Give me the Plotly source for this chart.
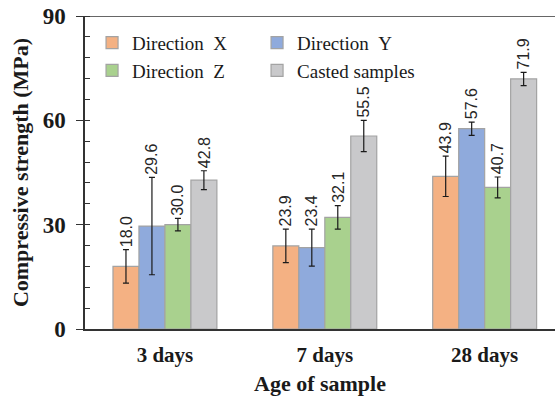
import plotly.graph_objects as go

# Compressive strength by sample age and print direction
ages = ["3 days", "7 days", "28 days"]
series_names = ["Direction\u00a0\u00a0X", "Direction\u00a0\u00a0Y",
                "Direction\u00a0\u00a0Z", "Casted samples"]
dir_x = [18.0, 23.9, 43.9]
dir_y = [29.6, 23.4, 57.6]
dir_z = [30.0, 32.1, 40.7]
casted = [42.8, 55.5, 71.9]
err_x = [4.8, 4.8, 5.8]
err_y = [14.0, 5.3, 1.9]
err_z = [1.8, 3.4, 3.0]
err_c = [2.7, 4.5, 1.9]
y_ticks = [0, 30, 60, 90]

values = [dir_x, dir_y, dir_z, casted]
errors = [err_x, err_y, err_z, err_c]
colors = ["#F4B183", "#8FAADC", "#A9D18E", "#C9C9CB"]

serif = "Liberation Serif, Times New Roman, serif"
n = len(values)
group_width = 0.65
bar_w = group_width / n
offsets = [-group_width / 2 + bar_w * (k + 0.5) for k in range(n)]

fig = go.Figure()
for name, vals, errs, col in zip(series_names, values, errors, colors):
    fig.add_trace(go.Bar(
        x=ages, y=vals, name=name,
        marker=dict(color=col, line=dict(color="#A3A3A3", width=1.2)),
        error_y=dict(type="data", array=errs, visible=True,
                     color="#1a1a1a", thickness=1.2, width=3),
    ))

# Rotated value labels just above each error bar
for k, (vals, errs) in enumerate(zip(values, errors)):
    for i, (v, e) in enumerate(zip(vals, errs)):
        fig.add_annotation(
            x=i + offsets[k], y=v + e, xref="x", yref="y",
            text=f"{v:.1f}", textangle=-90, showarrow=False,
            xanchor="center", yanchor="bottom", yshift=1,
            font=dict(family="Liberation Sans, Arial, sans-serif",
                      size=16, color="#262626"),
        )

# Top frame line
fig.add_shape(type="line", xref="paper", yref="y", x0=0, x1=1,
              y0=y_ticks[-1], y1=y_ticks[-1],
              line=dict(color="#333333", width=1.5))

fig.update_layout(
    width=555, height=399,
    margin=dict(l=85, r=0, t=16, b=70),
    paper_bgcolor="white", plot_bgcolor="rgba(0,0,0,0)",
    barmode="group", bargap=1 - group_width, bargroupgap=0,
    showlegend=True,
    legend=dict(
        orientation="h", x=0.015, y=0.975, xanchor="left", yanchor="top",
        entrywidth=120, entrywidthmode="pixels",
        font=dict(family=serif, size=19, color="#1a1a1a"),
        bgcolor="rgba(0,0,0,0)", traceorder="normal",
        itemwidth=30,
    ),
    xaxis=dict(
        type="category", range=[-0.5, 2.44], automargin=False,
        showline=True, linecolor="#333333", linewidth=1.5, mirror=False,
        ticks="", showgrid=False, zeroline=False, ticklabelstandoff=6,
        tickfont=dict(family=serif, size=21, color="#1a1a1a", weight="bold"),
        title=dict(text="<b>Age of sample</b>", standoff=10,
                   font=dict(family=serif, size=22, color="#1a1a1a")),
    ),
    yaxis=dict(
        range=[0, 90], tickvals=y_ticks, showgrid=False, zeroline=False,
        automargin=False, mirror=False,
        showline=True, linecolor="#333333", linewidth=1.5,
        ticks="outside", ticklen=7, tickwidth=1.2, tickcolor="#333333",
        ticklabelstandoff=6,
        minor=dict(dtick=6, ticks="inside", ticklen=5, tickwidth=1,
                   tickcolor="#333333", showgrid=False),
        tickfont=dict(family=serif, size=23, color="#1a1a1a", weight="bold"),
        title=dict(text="<b>Compressive strength (MPa)</b>", standoff=8,
                   font=dict(family=serif, size=22, color="#1a1a1a")),
    ),
)

fig.write_html("out.html")
